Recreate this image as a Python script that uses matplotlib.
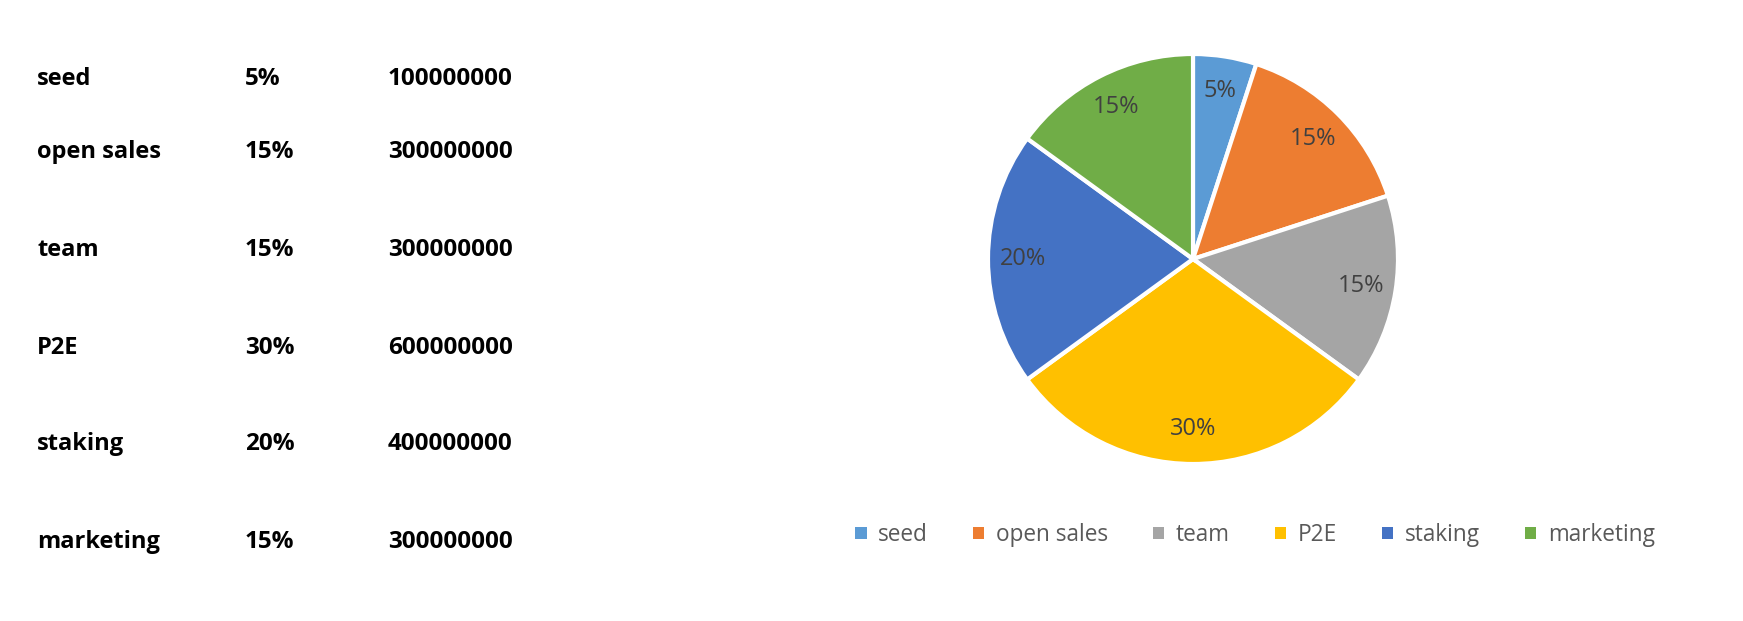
import matplotlib
matplotlib.use("Agg")
import matplotlib.pyplot as plt
from matplotlib.patches import Patch

categories = ["seed", "open sales", "team", "P2E", "staking", "marketing"]
shares = [5, 15, 15, 30, 20, 15]
pct_labels = ["5%", "15%", "15%", "30%", "20%", "15%"]
amounts = ["100000000", "300000000", "300000000", "600000000", "400000000", "300000000"]
colors = ["#5B9BD5", "#ED7D31", "#A5A5A5", "#FFC000", "#4472C4", "#70AD47"]

plt.rcParams['font.family'] = ['Open Sans', 'DejaVu Sans']

W, H = 1743, 621
fig = plt.figure(figsize=(W / 100, H / 100), dpi=100)

# Table text on the left
row_y = [79, 152, 250, 348, 444, 542]
col_x = [37, 245, 388]
for i, cat in enumerate(categories):
    y = 1 - row_y[i] / H
    fig.text(col_x[0] / W, y, cat, fontsize=17, fontweight='bold', va='center', ha='left', color='black')
    fig.text(col_x[1] / W, y, pct_labels[i], fontsize=17.5, fontweight='bold', va='center', ha='left', color='black')
    fig.text(col_x[2] / W, y, amounts[i], fontsize=17.5, fontweight='bold', va='center', ha='left', color='black')

# Pie
cx, cy, r = 1193, 259, 205
ax = fig.add_axes([(cx - r) / W, (H - cy - r) / H, 2 * r / W, 2 * r / H])
wedges, texts = ax.pie(shares, colors=colors, startangle=90, counterclock=False,
                       labels=pct_labels, labeldistance=0.83,
                       wedgeprops=dict(edgecolor='white', linewidth=3),
                       textprops=dict(fontsize=17, color='#404040'))
for t in texts:
    t.set_ha('center')
    t.set_va('center')
ax.set_xlim(-1.0, 1.0)
ax.set_ylim(-1.0, 1.0)
ax.set_aspect('equal')
ax.axis('off')

handles = [Patch(facecolor=c, edgecolor='none') for c in colors]
fig.legend(handles, categories, loc='center', bbox_to_anchor=(1255 / W, 1 - 535 / H),
           ncol=6, frameon=False, fontsize=16.3, labelcolor='#595959',
           handlelength=0.5, handleheight=0.5, handletextpad=0.5, columnspacing=2.0)

fig.savefig("out.png", dpi=100, facecolor='white')
